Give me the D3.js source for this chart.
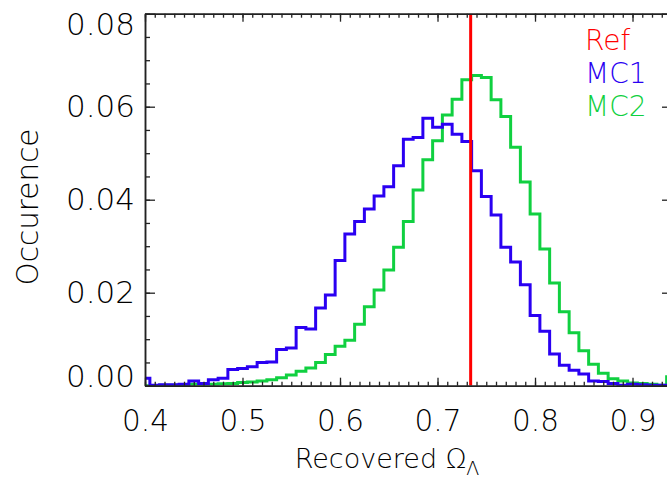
<!DOCTYPE html>
<html><head><meta charset="utf-8">
<script src="https://cdn.jsdelivr.net/npm/d3@7"></script>
<style>
html,body{margin:0;padding:0;background:#fff;}
svg{display:block;}
text{font-family:"DejaVu Sans","Liberation Sans",sans-serif;font-weight:200;}
</style></head>
<body>
<svg id="chart" width="667" height="477"></svg>
<script>
const binCenters = [0.40,0.41,0.42,0.43,0.44,0.45,0.46,0.47,0.48,0.49,
  0.50,0.51,0.52,0.53,0.54,0.55,0.56,0.57,0.58,0.59,
  0.60,0.61,0.62,0.63,0.64,0.65,0.66,0.67,0.68,0.69,
  0.70,0.71,0.72,0.73,0.74,0.75,0.76,0.77,0.78,0.79,
  0.80,0.81,0.82,0.83,0.84,0.85,0.86,0.87,0.88,0.89,
  0.90,0.91,0.92,0.93,0.94];
const mc1 = [0.0016,0.0001,0.0002,0.0002,0.0003,0.0010,0.0005,0.0013,0.0016,0.0035,
  0.0037,0.0041,0.0050,0.0051,0.0078,0.0081,0.0125,0.0122,0.0167,0.0195,
  0.0269,0.0326,0.0353,0.0380,0.0408,0.0428,0.0473,0.0530,0.0534,0.0575,
  0.0556,0.0562,0.0541,0.0525,0.0462,0.0407,0.0367,0.0298,0.0266,0.0217,
  0.0151,0.0117,0.0068,0.0044,0.0033,0.0025,0.0010,0.0009,0.0005,0.0001,
  0.0003,0.0002,0.0001,0.0001,0.0001];
const mc2 = [0.0000,0.0000,0.0001,0.0001,0.0001,0.0003,0.0003,0.0003,0.0004,0.0005,
  0.0007,0.0008,0.0010,0.0013,0.0017,0.0023,0.0031,0.0038,0.0050,0.0067,
  0.0085,0.0098,0.0132,0.0170,0.0206,0.0249,0.0298,0.0353,0.0421,0.0486,
  0.0527,0.0582,0.0616,0.0658,0.0667,0.0663,0.0615,0.0579,0.0513,0.0438,
  0.0369,0.0294,0.0221,0.0159,0.0114,0.0075,0.0046,0.0027,0.0015,0.0010,
  0.0006,0.0005,0.0003,0.0001,0.0019];
const refValue = 0.734;
const binWidth = 0.01;
const xTickValues = [0.4,0.5,0.6,0.7,0.8,0.9];
const xTickLabels = ["0.4","0.5","0.6","0.7","0.8","0.9"];
const yTickValues = [0.00,0.02,0.04,0.06,0.08];
const yTickLabels = ["0.00","0.02","0.04","0.06","0.08"];
const legendLabels = ["Ref","MC1","MC2"];
const colors = {ref:"#ff0000", mc1:"#2a00f2", mc2:"#10d040"};

(function(){
const svg = d3.select("#chart");
const pL = 145, pR = 672, pT = 13.7, pB = 385.7;
const x = d3.scaleLinear().domain([0.4, 0.9405]).range([pL, pR]);
const y = d3.scaleLinear().domain([0, 0.08]).range([pB, pT]);

svg.append("defs").append("clipPath").attr("id","clip")
  .append("rect").attr("x",pL).attr("y",pT).attr("width",pR-pL).attr("height",pB-pT);

const plot = svg.append("g").attr("clip-path","url(#clip)");

function stepData(vals){
  const pts = binCenters.map((c,i)=>[c-binWidth/2, vals[i]]);
  pts.push([binCenters[binCenters.length-1]+binWidth/2, vals[vals.length-1]]);
  return pts;
}
const line = d3.line().x(d=>x(d[0])).y(d=>y(d[1])).curve(d3.curveStepAfter);

plot.append("path").datum(stepData(mc2)).attr("d",line)
  .attr("fill","none").attr("stroke",colors.mc2).attr("stroke-width",3);
plot.append("path").datum(stepData(mc1)).attr("d",line)
  .attr("fill","none").attr("stroke",colors.mc1).attr("stroke-width",3);
plot.append("line").attr("x1",x(refValue)).attr("x2",x(refValue))
  .attr("y1",y(0.08)).attr("y2",y(0)).attr("stroke",colors.ref).attr("stroke-width",3);

const xMinor = d3.range(40,95).map(v=>v/100);
const yMinor = d3.range(0,17).map(v=>v*0.005);
const axColor = "#222";
function styleAxis(g){
  g.select(".domain").attr("stroke",axColor).attr("stroke-width",1.5);
  g.selectAll(".tick line").attr("stroke",axColor).attr("stroke-width",1.3);
}
svg.append("g").attr("transform",`translate(0,${pB})`)
  .call(d3.axisBottom(x).tickValues(xMinor).tickSize(-4).tickFormat("").tickSizeOuter(0)).call(styleAxis);
const xb = svg.append("g").attr("transform",`translate(0,${pB})`)
  .call(d3.axisBottom(x).tickValues(xTickValues).tickSize(-8).tickPadding(24)
    .tickFormat((d,i)=>xTickLabels[i]).tickSizeOuter(0)).call(styleAxis);
xb.selectAll("text").attr("font-size",29.5).attr("fill","#000");
svg.append("g").attr("transform",`translate(0,${pT})`)
  .call(d3.axisTop(x).tickValues(xMinor).tickSize(-4).tickFormat("").tickSizeOuter(0)).call(styleAxis);
svg.append("g").attr("transform",`translate(0,${pT})`)
  .call(d3.axisTop(x).tickValues(xTickValues).tickSize(-8).tickFormat("").tickSizeOuter(0)).call(styleAxis);
svg.append("g").attr("transform",`translate(${pL},0)`)
  .call(d3.axisLeft(y).tickValues(yMinor).tickSize(-5).tickFormat("").tickSizeOuter(0)).call(styleAxis);
const yl = svg.append("g").attr("transform",`translate(${pL},0)`)
  .call(d3.axisLeft(y).tickValues(yTickValues).tickSize(-10).tickPadding(10)
    .tickFormat((d,i)=>yTickLabels[i]).tickSizeOuter(0)).call(styleAxis);
yl.selectAll("text").attr("font-size",31).attr("fill","#000")
  .attr("transform",d=>{
    const yy = y(d);
    const c = Math.max(pT+11, Math.min(pB-9, yy));
    return `translate(0,${c-yy})`;
  });
svg.append("g").attr("transform",`translate(${pR},0)`)
  .call(d3.axisRight(y).tickValues(yMinor).tickSize(-5).tickFormat("").tickSizeOuter(0)).call(styleAxis);
svg.append("g").attr("transform",`translate(${pR},0)`)
  .call(d3.axisRight(y).tickValues(yTickValues).tickSize(-10).tickFormat("").tickSizeOuter(0)).call(styleAxis);

const xt = svg.append("text").attr("x",387).attr("y",468).attr("text-anchor","middle")
  .attr("font-size",27).attr("fill","#000");
xt.append("tspan").text("Recovered Ω");
xt.append("tspan").attr("font-size",19).attr("dy",7).text("Λ");
svg.append("text").attr("transform","translate(38,207) rotate(-90)").attr("text-anchor","middle")
  .attr("font-size",29.5).attr("fill","#000").text("Occurence");

const legColors = [colors.ref, colors.mc1, colors.mc2];
svg.append("g").selectAll("text").data(legendLabels).join("text")
  .attr("x",585).attr("y",(d,i)=>50+i*33)
  .attr("font-size",28).attr("fill",(d,i)=>legColors[i]).text(d=>d);
})();
</script>
</body></html>
